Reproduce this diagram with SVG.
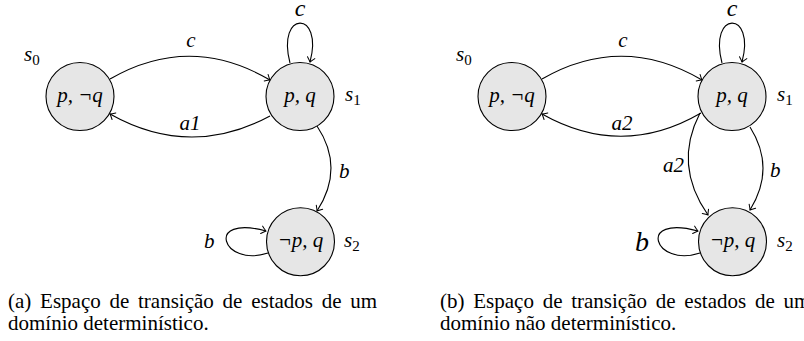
<svg xmlns="http://www.w3.org/2000/svg" width="804" height="341" viewBox="0 0 804 341">
<style>
  .st { fill: #e6e6e6; stroke: #000; stroke-width: 1.1; }
  .e { fill: none; stroke: #000; stroke-width: 1.1; marker-end: url(#arr); }
  .m { font-style: italic; font-size: 21px; fill: #000; }
  .mc { text-anchor: middle; }
  .sub { font-style: normal; font-size: 15px; }
  .big { font-size: 24px; }
  .huge { font-size: 28px; }
  .cap { font-size: 21px; fill: #000; }
</style>
<defs>
  <marker id="arr" viewBox="-6 -5 8 10" refX="0" refY="0" markerWidth="8" markerHeight="10" markerUnits="userSpaceOnUse" orient="auto">
    <path d="M -4.5 -3.8 Q -1.5 -1 0 0 Q -1.5 1 -4.5 3.8" fill="none" stroke="#000" stroke-width="1" stroke-linecap="round"/>
  </marker>
</defs>

<g id="connectors">
  <path class="e" d="M 110 79 Q 190 33 270 80"/>
  <path class="e" d="M 270 116 Q 190 159 110 114"/>
  <path class="e" d="M 290 63 C 276 10, 324 10, 310 62"/>
  <path class="e" d="M 317 126 Q 345 168 317 211"/>
  <path class="e" d="M 268 253 C 222 268, 204 214, 266 231"/>
  <path class="e" d="M 542 79 Q 622 33 702 80"/>
  <path class="e" d="M 701 113 Q 622 159 542 114"/>
  <path class="e" d="M 722 63 C 708 10, 756 10, 742 62"/>
  <path class="e" d="M 700 113 Q 673 165 708 215"/>
  <path class="e" d="M 750 127 Q 776 168 750 210"/>
  <path class="e" d="M 700 253 C 654 268, 636 214, 698 231"/>
</g>

<g font-family="Liberation Serif, serif">
<g id="edge-labels">
  <text class="m mc" x="191" y="47">c</text>
  <text class="m mc" x="190" y="130">a1</text>
  <text class="m mc big" x="300" y="16">c</text>
  <text class="m" x="339" y="178">b</text>
  <text class="m" x="204" y="248">b</text>
  <text class="m mc" x="623" y="47">c</text>
  <text class="m mc" x="622" y="130">a2</text>
  <text class="m mc big" x="732" y="16">c</text>
  <text class="m" x="663" y="172">a2</text>
  <text class="m" x="770" y="177">b</text>
  <text class="m huge" x="635" y="251">b</text>
</g>

<g id="a-s0">
  <circle class="st" cx="80" cy="96.5" r="34"/>
  <text class="m mc" x="80" y="102">p, ¬q</text>
  <text class="m" x="24" y="61">s<tspan class="sub" dy="4">0</tspan></text>
</g>
<g id="a-s1">
  <circle class="st" cx="300" cy="96.5" r="34"/>
  <text class="m mc" x="300" y="102">p, q</text>
  <text class="m" x="345" y="101">s<tspan class="sub" dy="4">1</tspan></text>
</g>
<g id="a-s2">
  <circle class="st" cx="300.5" cy="241.7" r="34"/>
  <text class="m mc" x="300.5" y="247">¬p, q</text>
  <text class="m" x="344" y="247">s<tspan class="sub" dy="4">2</tspan></text>
</g>
<g id="b-s0">
  <circle class="st" cx="512" cy="96.5" r="34"/>
  <text class="m mc" x="512" y="102">p, ¬q</text>
  <text class="m" x="456" y="61">s<tspan class="sub" dy="4">0</tspan></text>
</g>
<g id="b-s1">
  <circle class="st" cx="732" cy="96.5" r="34"/>
  <text class="m mc" x="732" y="102">p, q</text>
  <text class="m" x="777" y="101">s<tspan class="sub" dy="4">1</tspan></text>
</g>
<g id="b-s2">
  <circle class="st" cx="732.5" cy="241.7" r="34"/>
  <text class="m mc" x="732.5" y="247">¬p, q</text>
  <text class="m" x="777" y="247">s<tspan class="sub" dy="4">2</tspan></text>
</g>

<g id="captions">
  <text class="cap" x="8" y="308" word-spacing="3.5">(a) Espaço de transição de estados de um</text>
  <text class="cap" x="8" y="330">domínio determinístico.</text>
  <text class="cap" x="440" y="308" word-spacing="3.5">(b) Espaço de transição de estados de um</text>
  <text class="cap" x="440" y="330">domínio não determinístico.</text>
</g>
</g>
</svg>
